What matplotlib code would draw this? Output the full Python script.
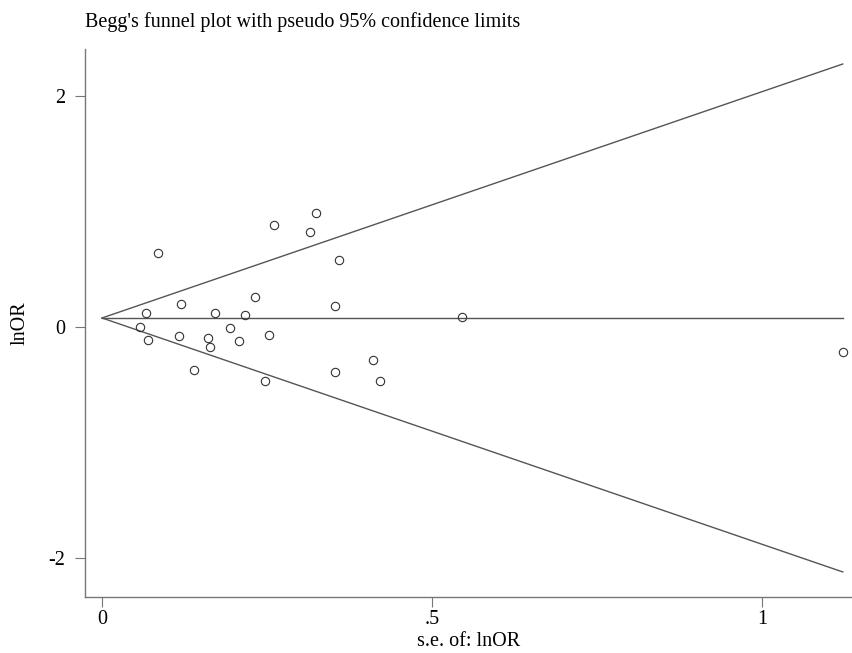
import matplotlib
matplotlib.use("Agg")
import matplotlib.pyplot as plt
import numpy as np

plt.rcParams["font.family"] = ["Liberation Serif", "DejaVu Serif"]

# standard errors and log odds ratios of the studies
se_lnor = [0.085, 0.260, 0.119, 0.231, 0.067, 0.171, 0.217, 0.058, 0.194,
           0.070, 0.117, 0.161, 0.164, 0.207, 0.253, 0.139, 0.247,
           0.324, 0.315, 0.359, 0.353, 0.545, 0.410, 0.353, 0.421, 1.122]
lnor = [0.643, 0.883, 0.202, 0.257, 0.121, 0.121, 0.106, 0.003, -0.006,
        -0.113, -0.078, -0.093, -0.171, -0.121, -0.067, -0.375, -0.470,
        0.987, 0.823, 0.583, 0.179, 0.089, -0.283, -0.390, -0.470, -0.219]
pooled = 0.078

xticks = [0, 0.5, 1]
xtick_labels = ["0", ".5", "1"]
yticks = [-2, 0, 2]
ytick_labels = ["-2", "0", "2"]

W, H = 852, 653
fig = plt.figure(figsize=(W / 100, H / 100), dpi=100)
ax = fig.add_axes([85 / W, 1 - 597 / H, 1 - 85 / W, (597 - 49) / H])

# pseudo 95% confidence limits
se_max = max(se_lnor)
s = np.array([0, se_max])
line_kw = dict(color="#555555", lw=1.0)
ax.plot(s, pooled + 1.96 * s, **line_kw)
ax.plot(s, pooled - 1.96 * s, **line_kw)
ax.plot(s, [pooled, pooled], **line_kw)

ax.plot(se_lnor, lnor, linestyle="none", marker="o", ms=6,
        mfc="none", mec="#333333", mew=0.8)

ax.set_xlim(-0.0258, 1.136)
ax.set_ylim(-2.338, 2.407)

ax.spines["top"].set_visible(False)
ax.spines["right"].set_visible(False)
for sp in ("left", "bottom"):
    ax.spines[sp].set_color("#777777")
    ax.spines[sp].set_linewidth(1.0)

ax.set_xticks(xticks)
ax.set_xticklabels(xtick_labels)
ax.set_yticks(yticks)
ax.set_yticklabels(ytick_labels)
ax.tick_params(direction="out", length=7.5, width=0.8, color="#777777",
               labelsize=14.5)
ax.tick_params(axis="x", pad=2)
ax.tick_params(axis="y", pad=7)

ax.set_xlabel("s.e. of: lnOR", fontsize=14.5, labelpad=2)
ax.set_ylabel("lnOR", fontsize=14.5, labelpad=13)

fig.text(85 / W, 1 - 27 / H, "Begg's funnel plot with pseudo 95% confidence limits",
         fontsize=14.5, ha="left", va="baseline")

fig.savefig("out.png", dpi=100)
